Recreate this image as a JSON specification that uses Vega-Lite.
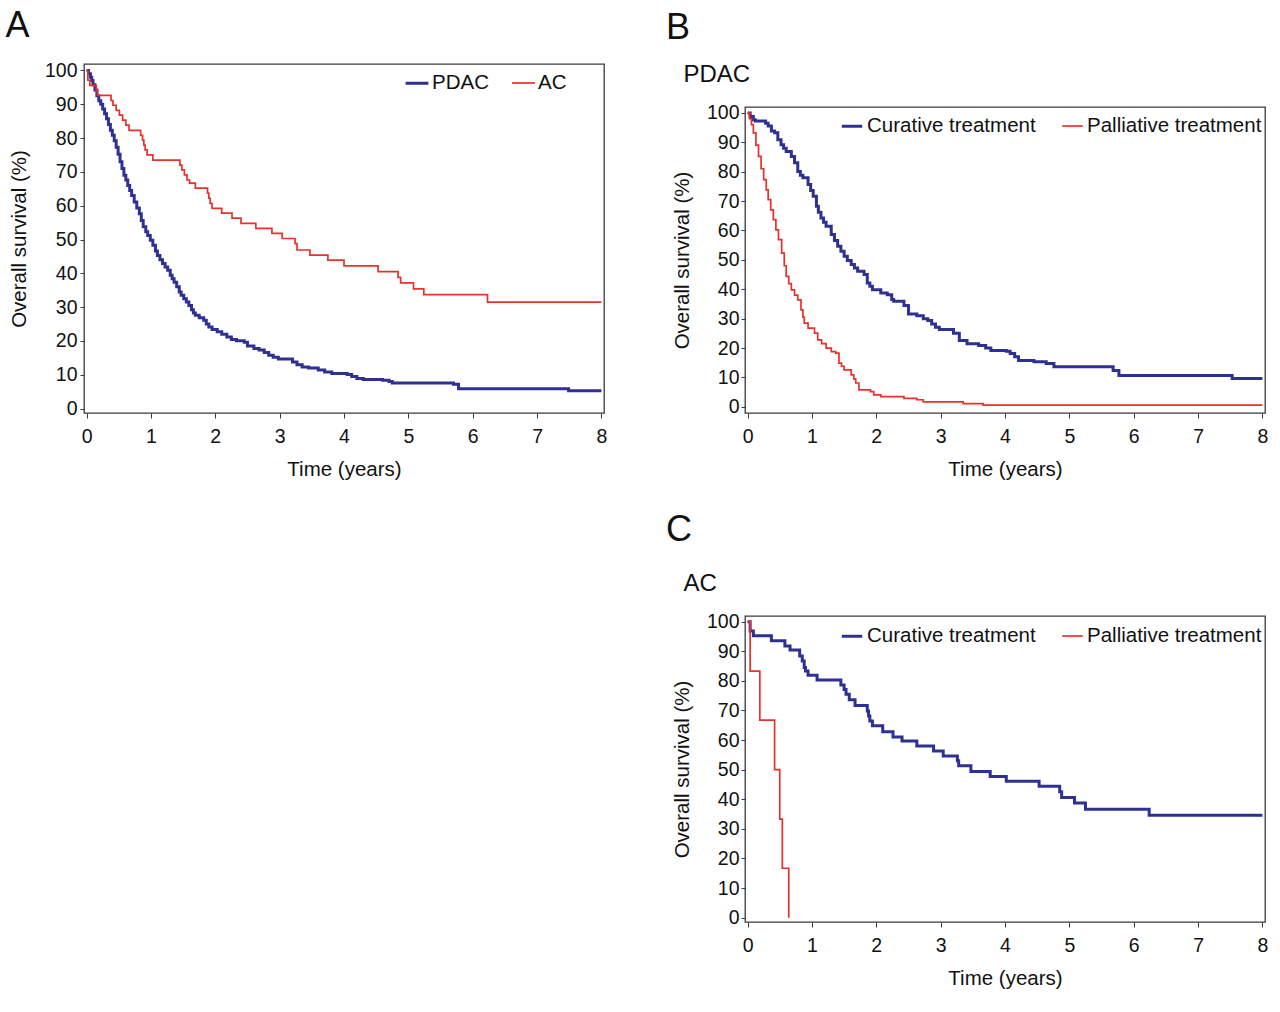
{
  "$schema": "https://vega.github.io/schema/vega-lite/v6.json",
  "background": "white",
  "padding": {"left": 4, "top": 7, "right": 5, "bottom": 5},
  "config": {
    "font": "Liberation Sans",
    "view": {"stroke": "#3a3a3a", "strokeWidth": 1.3},
    "axis": {
      "grid": false,
      "domain": false,
      "labelFont": "Liberation Sans",
      "titleFont": "Liberation Sans",
      "labelFontSize": 19.5,
      "titleFontSize": 20.5,
      "labelColor": "#111",
      "titleColor": "#111",
      "titleFontWeight": "normal",
      "tickColor": "#3a3a3a",
      "labelOverlap": false,
      "labelFlush": false
    },
    "legend": {
      "labelFont": "Liberation Sans",
      "labelFontSize": 20.5,
      "labelColor": "#111",
      "labelLimit": 400,
      "symbolType": "stroke",
      "padding": 0,
      "labelOffset": 2
    },
    "title": {
      "font": "Liberation Sans",
      "fontSize": 36,
      "fontWeight": "normal",
      "color": "#111",
      "anchor": "start",
      "frame": "bounds",
      "subtitleFont": "Liberation Sans",
      "subtitleFontSize": 24,
      "subtitleColor": "#111"
    }
  },
  "datasets": {
    "A": [
      {"g": "PDAC", "t": 0, "s": 100}, {"g": "PDAC", "t": 0.03, "s": 99}, {"g": "PDAC", "t": 0.06, "s": 98}, {"g": "PDAC", "t": 0.08, "s": 97},
      {"g": "PDAC", "t": 0.1, "s": 95.8}, {"g": "PDAC", "t": 0.13, "s": 94.2}, {"g": "PDAC", "t": 0.16, "s": 92.5}, {"g": "PDAC", "t": 0.19, "s": 91},
      {"g": "PDAC", "t": 0.22, "s": 90}, {"g": "PDAC", "t": 0.25, "s": 88.6}, {"g": "PDAC", "t": 0.28, "s": 87.2}, {"g": "PDAC", "t": 0.31, "s": 85.7},
      {"g": "PDAC", "t": 0.34, "s": 84}, {"g": "PDAC", "t": 0.37, "s": 82.3}, {"g": "PDAC", "t": 0.4, "s": 80.8}, {"g": "PDAC", "t": 0.43, "s": 79.2},
      {"g": "PDAC", "t": 0.46, "s": 77.3}, {"g": "PDAC", "t": 0.49, "s": 75.2}, {"g": "PDAC", "t": 0.52, "s": 73}, {"g": "PDAC", "t": 0.55, "s": 71},
      {"g": "PDAC", "t": 0.58, "s": 69}, {"g": "PDAC", "t": 0.61, "s": 67.6}, {"g": "PDAC", "t": 0.64, "s": 66}, {"g": "PDAC", "t": 0.67, "s": 64.5},
      {"g": "PDAC", "t": 0.7, "s": 63}, {"g": "PDAC", "t": 0.74, "s": 61.1}, {"g": "PDAC", "t": 0.78, "s": 59.3}, {"g": "PDAC", "t": 0.82, "s": 57.6},
      {"g": "PDAC", "t": 0.85, "s": 55.6}, {"g": "PDAC", "t": 0.88, "s": 53.8}, {"g": "PDAC", "t": 0.92, "s": 52.3}, {"g": "PDAC", "t": 0.95, "s": 51.2},
      {"g": "PDAC", "t": 0.99, "s": 49.8}, {"g": "PDAC", "t": 1.03, "s": 48.3}, {"g": "PDAC", "t": 1.07, "s": 46.6}, {"g": "PDAC", "t": 1.1, "s": 45.3},
      {"g": "PDAC", "t": 1.14, "s": 44}, {"g": "PDAC", "t": 1.18, "s": 42.9}, {"g": "PDAC", "t": 1.22, "s": 41.9}, {"g": "PDAC", "t": 1.26, "s": 40.9},
      {"g": "PDAC", "t": 1.3, "s": 39.4}, {"g": "PDAC", "t": 1.33, "s": 38.4}, {"g": "PDAC", "t": 1.36, "s": 37.4}, {"g": "PDAC", "t": 1.4, "s": 36},
      {"g": "PDAC", "t": 1.44, "s": 34.5}, {"g": "PDAC", "t": 1.47, "s": 33.5}, {"g": "PDAC", "t": 1.51, "s": 32.5}, {"g": "PDAC", "t": 1.55, "s": 31.5},
      {"g": "PDAC", "t": 1.59, "s": 30.5}, {"g": "PDAC", "t": 1.63, "s": 29.2}, {"g": "PDAC", "t": 1.66, "s": 28.3}, {"g": "PDAC", "t": 1.69, "s": 27.6},
      {"g": "PDAC", "t": 1.75, "s": 26.9}, {"g": "PDAC", "t": 1.82, "s": 26.1}, {"g": "PDAC", "t": 1.86, "s": 25}, {"g": "PDAC", "t": 1.9, "s": 24.1},
      {"g": "PDAC", "t": 1.95, "s": 23.4}, {"g": "PDAC", "t": 2.03, "s": 22.7}, {"g": "PDAC", "t": 2.1, "s": 22}, {"g": "PDAC", "t": 2.18, "s": 21.2},
      {"g": "PDAC", "t": 2.25, "s": 20.4}, {"g": "PDAC", "t": 2.33, "s": 20.1}, {"g": "PDAC", "t": 2.45, "s": 19.6}, {"g": "PDAC", "t": 2.5, "s": 18.5},
      {"g": "PDAC", "t": 2.6, "s": 17.8}, {"g": "PDAC", "t": 2.68, "s": 17.3}, {"g": "PDAC", "t": 2.76, "s": 16.6}, {"g": "PDAC", "t": 2.83, "s": 15.8},
      {"g": "PDAC", "t": 2.9, "s": 15.2}, {"g": "PDAC", "t": 2.98, "s": 14.7}, {"g": "PDAC", "t": 3.2, "s": 13.8}, {"g": "PDAC", "t": 3.27, "s": 13},
      {"g": "PDAC", "t": 3.35, "s": 12.3}, {"g": "PDAC", "t": 3.45, "s": 12}, {"g": "PDAC", "t": 3.6, "s": 11.4}, {"g": "PDAC", "t": 3.7, "s": 10.8},
      {"g": "PDAC", "t": 3.81, "s": 10.4}, {"g": "PDAC", "t": 4.05, "s": 10.1}, {"g": "PDAC", "t": 4.12, "s": 9.5}, {"g": "PDAC", "t": 4.2, "s": 8.9},
      {"g": "PDAC", "t": 4.3, "s": 8.6}, {"g": "PDAC", "t": 4.6, "s": 8.4}, {"g": "PDAC", "t": 4.7, "s": 8}, {"g": "PDAC", "t": 4.75, "s": 7.6},
      {"g": "PDAC", "t": 5.7, "s": 7.2}, {"g": "PDAC", "t": 5.78, "s": 5.9}, {"g": "PDAC", "t": 7.49, "s": 5.3}, {"g": "PDAC", "t": 8, "s": 5.3},
      {"g": "AC", "t": 0, "s": 100}, {"g": "AC", "t": 0.02, "s": 97.1}, {"g": "AC", "t": 0.05, "s": 95.6}, {"g": "AC", "t": 0.15, "s": 94.1},
      {"g": "AC", "t": 0.17, "s": 92.6}, {"g": "AC", "t": 0.38, "s": 91.1}, {"g": "AC", "t": 0.41, "s": 89.7}, {"g": "AC", "t": 0.46, "s": 88.2},
      {"g": "AC", "t": 0.51, "s": 86.8}, {"g": "AC", "t": 0.56, "s": 85.3}, {"g": "AC", "t": 0.61, "s": 83.8}, {"g": "AC", "t": 0.66, "s": 82.3},
      {"g": "AC", "t": 0.84, "s": 80.8}, {"g": "AC", "t": 0.87, "s": 79.4}, {"g": "AC", "t": 0.89, "s": 77.9}, {"g": "AC", "t": 0.91, "s": 76.5},
      {"g": "AC", "t": 0.94, "s": 75}, {"g": "AC", "t": 1.03, "s": 73.5}, {"g": "AC", "t": 1.45, "s": 72}, {"g": "AC", "t": 1.48, "s": 70.6},
      {"g": "AC", "t": 1.52, "s": 69.1}, {"g": "AC", "t": 1.56, "s": 67.6}, {"g": "AC", "t": 1.6, "s": 66.7}, {"g": "AC", "t": 1.69, "s": 65.2},
      {"g": "AC", "t": 1.88, "s": 63.7}, {"g": "AC", "t": 1.9, "s": 62.2}, {"g": "AC", "t": 1.92, "s": 60.7}, {"g": "AC", "t": 1.95, "s": 59.2},
      {"g": "AC", "t": 2.1, "s": 57.8}, {"g": "AC", "t": 2.26, "s": 56.3}, {"g": "AC", "t": 2.4, "s": 54.8}, {"g": "AC", "t": 2.63, "s": 53.3},
      {"g": "AC", "t": 2.88, "s": 51.8}, {"g": "AC", "t": 3.04, "s": 50.3}, {"g": "AC", "t": 3.24, "s": 48.8}, {"g": "AC", "t": 3.27, "s": 46.9},
      {"g": "AC", "t": 3.47, "s": 45.4}, {"g": "AC", "t": 3.75, "s": 43.9}, {"g": "AC", "t": 4, "s": 42.2}, {"g": "AC", "t": 4.53, "s": 40.5},
      {"g": "AC", "t": 4.84, "s": 38.8}, {"g": "AC", "t": 4.88, "s": 37.2}, {"g": "AC", "t": 5.08, "s": 35.4}, {"g": "AC", "t": 5.24, "s": 33.7},
      {"g": "AC", "t": 6.23, "s": 31.5}, {"g": "AC", "t": 8, "s": 31.5}
    ],
    "B": [
      {"g": "Curative treatment", "t": 0, "s": 100}, {"g": "Curative treatment", "t": 0.04, "s": 98.8}, {"g": "Curative treatment", "t": 0.09, "s": 97.7},
      {"g": "Curative treatment", "t": 0.12, "s": 97.2}, {"g": "Curative treatment", "t": 0.28, "s": 96.5}, {"g": "Curative treatment", "t": 0.32, "s": 95.5},
      {"g": "Curative treatment", "t": 0.37, "s": 93.8}, {"g": "Curative treatment", "t": 0.42, "s": 93.2}, {"g": "Curative treatment", "t": 0.47, "s": 90.9},
      {"g": "Curative treatment", "t": 0.52, "s": 89.2}, {"g": "Curative treatment", "t": 0.56, "s": 88}, {"g": "Curative treatment", "t": 0.6, "s": 86.9},
      {"g": "Curative treatment", "t": 0.68, "s": 85.2}, {"g": "Curative treatment", "t": 0.73, "s": 83}, {"g": "Curative treatment", "t": 0.78, "s": 80.1},
      {"g": "Curative treatment", "t": 0.82, "s": 78.8}, {"g": "Curative treatment", "t": 0.86, "s": 77.9}, {"g": "Curative treatment", "t": 0.94, "s": 75.6},
      {"g": "Curative treatment", "t": 0.98, "s": 73.6}, {"g": "Curative treatment", "t": 1.02, "s": 71.6}, {"g": "Curative treatment", "t": 1.07, "s": 68.2},
      {"g": "Curative treatment", "t": 1.1, "s": 66.2}, {"g": "Curative treatment", "t": 1.14, "s": 64.2}, {"g": "Curative treatment", "t": 1.18, "s": 62.8},
      {"g": "Curative treatment", "t": 1.22, "s": 61.4}, {"g": "Curative treatment", "t": 1.3, "s": 58.6}, {"g": "Curative treatment", "t": 1.35, "s": 56.6},
      {"g": "Curative treatment", "t": 1.4, "s": 54.6}, {"g": "Curative treatment", "t": 1.45, "s": 52.9}, {"g": "Curative treatment", "t": 1.5, "s": 51.2},
      {"g": "Curative treatment", "t": 1.55, "s": 49.8}, {"g": "Curative treatment", "t": 1.61, "s": 48.4}, {"g": "Curative treatment", "t": 1.66, "s": 47.2},
      {"g": "Curative treatment", "t": 1.71, "s": 46.1}, {"g": "Curative treatment", "t": 1.81, "s": 45}, {"g": "Curative treatment", "t": 1.86, "s": 42.1},
      {"g": "Curative treatment", "t": 1.9, "s": 41}, {"g": "Curative treatment", "t": 1.94, "s": 39.8}, {"g": "Curative treatment", "t": 2.07, "s": 38.7},
      {"g": "Curative treatment", "t": 2.17, "s": 38.1}, {"g": "Curative treatment", "t": 2.24, "s": 36.5}, {"g": "Curative treatment", "t": 2.27, "s": 35.9},
      {"g": "Curative treatment", "t": 2.43, "s": 34.5}, {"g": "Curative treatment", "t": 2.5, "s": 31.6}, {"g": "Curative treatment", "t": 2.63, "s": 31},
      {"g": "Curative treatment", "t": 2.73, "s": 30}, {"g": "Curative treatment", "t": 2.8, "s": 29.4}, {"g": "Curative treatment", "t": 2.86, "s": 28.2},
      {"g": "Curative treatment", "t": 2.92, "s": 27.1}, {"g": "Curative treatment", "t": 2.98, "s": 26.3}, {"g": "Curative treatment", "t": 3.2, "s": 25},
      {"g": "Curative treatment", "t": 3.29, "s": 22.6}, {"g": "Curative treatment", "t": 3.41, "s": 21.5}, {"g": "Curative treatment", "t": 3.59, "s": 20.9},
      {"g": "Curative treatment", "t": 3.7, "s": 20}, {"g": "Curative treatment", "t": 3.78, "s": 19.2}, {"g": "Curative treatment", "t": 4.02, "s": 18.9},
      {"g": "Curative treatment", "t": 4.08, "s": 18.1}, {"g": "Curative treatment", "t": 4.15, "s": 17}, {"g": "Curative treatment", "t": 4.21, "s": 15.8},
      {"g": "Curative treatment", "t": 4.45, "s": 15.3}, {"g": "Curative treatment", "t": 4.64, "s": 14.7}, {"g": "Curative treatment", "t": 4.76, "s": 13.6},
      {"g": "Curative treatment", "t": 5.68, "s": 12.4}, {"g": "Curative treatment", "t": 5.77, "s": 10.7}, {"g": "Curative treatment", "t": 7.53, "s": 9.6},
      {"g": "Curative treatment", "t": 8, "s": 9.6},
      {"g": "Palliative treatment", "t": 0, "s": 100}, {"g": "Palliative treatment", "t": 0.03, "s": 98}, {"g": "Palliative treatment", "t": 0.06, "s": 96},
      {"g": "Palliative treatment", "t": 0.09, "s": 93.2}, {"g": "Palliative treatment", "t": 0.13, "s": 89}, {"g": "Palliative treatment", "t": 0.17, "s": 85.2},
      {"g": "Palliative treatment", "t": 0.21, "s": 81}, {"g": "Palliative treatment", "t": 0.25, "s": 77.3}, {"g": "Palliative treatment", "t": 0.29, "s": 73.8},
      {"g": "Palliative treatment", "t": 0.32, "s": 70.5}, {"g": "Palliative treatment", "t": 0.36, "s": 67}, {"g": "Palliative treatment", "t": 0.4, "s": 63.7},
      {"g": "Palliative treatment", "t": 0.44, "s": 60.2}, {"g": "Palliative treatment", "t": 0.48, "s": 56.9}, {"g": "Palliative treatment", "t": 0.53, "s": 52.3},
      {"g": "Palliative treatment", "t": 0.57, "s": 48}, {"g": "Palliative treatment", "t": 0.6, "s": 44.4}, {"g": "Palliative treatment", "t": 0.64, "s": 41.9},
      {"g": "Palliative treatment", "t": 0.68, "s": 39.8}, {"g": "Palliative treatment", "t": 0.73, "s": 38}, {"g": "Palliative treatment", "t": 0.78, "s": 36.4},
      {"g": "Palliative treatment", "t": 0.83, "s": 33}, {"g": "Palliative treatment", "t": 0.86, "s": 30.5}, {"g": "Palliative treatment", "t": 0.88, "s": 28.5},
      {"g": "Palliative treatment", "t": 0.94, "s": 26.8}, {"g": "Palliative treatment", "t": 1.04, "s": 25.1}, {"g": "Palliative treatment", "t": 1.09, "s": 22.8},
      {"g": "Palliative treatment", "t": 1.15, "s": 21.5}, {"g": "Palliative treatment", "t": 1.22, "s": 20}, {"g": "Palliative treatment", "t": 1.3, "s": 18.8},
      {"g": "Palliative treatment", "t": 1.37, "s": 18.3}, {"g": "Palliative treatment", "t": 1.42, "s": 14.9}, {"g": "Palliative treatment", "t": 1.46, "s": 13.8},
      {"g": "Palliative treatment", "t": 1.5, "s": 12.6}, {"g": "Palliative treatment", "t": 1.61, "s": 10.9}, {"g": "Palliative treatment", "t": 1.65, "s": 9.5},
      {"g": "Palliative treatment", "t": 1.68, "s": 8.1}, {"g": "Palliative treatment", "t": 1.73, "s": 5.8}, {"g": "Palliative treatment", "t": 1.91, "s": 5.2},
      {"g": "Palliative treatment", "t": 1.96, "s": 4.1}, {"g": "Palliative treatment", "t": 2.07, "s": 3.5}, {"g": "Palliative treatment", "t": 2.43, "s": 2.9},
      {"g": "Palliative treatment", "t": 2.63, "s": 2.4}, {"g": "Palliative treatment", "t": 2.73, "s": 1.7}, {"g": "Palliative treatment", "t": 3.35, "s": 1.1},
      {"g": "Palliative treatment", "t": 3.66, "s": 0.6}, {"g": "Palliative treatment", "t": 8, "s": 0.6}
    ],
    "C": [
      {"g": "Curative treatment", "t": 0, "s": 100}, {"g": "Curative treatment", "t": 0.04, "s": 96.8}, {"g": "Curative treatment", "t": 0.09, "s": 95.2},
      {"g": "Curative treatment", "t": 0.37, "s": 93.5}, {"g": "Curative treatment", "t": 0.58, "s": 91.8}, {"g": "Curative treatment", "t": 0.66, "s": 90.4},
      {"g": "Curative treatment", "t": 0.81, "s": 88.4}, {"g": "Curative treatment", "t": 0.85, "s": 86.7}, {"g": "Curative treatment", "t": 0.88, "s": 84.5},
      {"g": "Curative treatment", "t": 0.9, "s": 83.3}, {"g": "Curative treatment", "t": 0.94, "s": 81.9}, {"g": "Curative treatment", "t": 1.08, "s": 80.3},
      {"g": "Curative treatment", "t": 1.45, "s": 78.6}, {"g": "Curative treatment", "t": 1.5, "s": 77.1}, {"g": "Curative treatment", "t": 1.53, "s": 75.5},
      {"g": "Curative treatment", "t": 1.58, "s": 73.6}, {"g": "Curative treatment", "t": 1.67, "s": 71.7}, {"g": "Curative treatment", "t": 1.86, "s": 69.8},
      {"g": "Curative treatment", "t": 1.88, "s": 68.1}, {"g": "Curative treatment", "t": 1.9, "s": 66.4}, {"g": "Curative treatment", "t": 1.94, "s": 64.8},
      {"g": "Curative treatment", "t": 2.1, "s": 62.8}, {"g": "Curative treatment", "t": 2.26, "s": 61}, {"g": "Curative treatment", "t": 2.4, "s": 59.7},
      {"g": "Curative treatment", "t": 2.63, "s": 58}, {"g": "Curative treatment", "t": 2.89, "s": 56.3}, {"g": "Curative treatment", "t": 3.04, "s": 54.6},
      {"g": "Curative treatment", "t": 3.26, "s": 53}, {"g": "Curative treatment", "t": 3.28, "s": 51.3}, {"g": "Curative treatment", "t": 3.47, "s": 49.4},
      {"g": "Curative treatment", "t": 3.77, "s": 47.7}, {"g": "Curative treatment", "t": 4.02, "s": 46.1}, {"g": "Curative treatment", "t": 4.53, "s": 44.4},
      {"g": "Curative treatment", "t": 4.85, "s": 42.5}, {"g": "Curative treatment", "t": 4.88, "s": 40.6}, {"g": "Curative treatment", "t": 5.08, "s": 38.7},
      {"g": "Curative treatment", "t": 5.25, "s": 36.6}, {"g": "Curative treatment", "t": 6.24, "s": 34.6}, {"g": "Curative treatment", "t": 8, "s": 34.6},
      {"g": "Palliative treatment", "t": 0, "s": 100}, {"g": "Palliative treatment", "t": 0.04, "s": 83.3}, {"g": "Palliative treatment", "t": 0.19, "s": 66.7},
      {"g": "Palliative treatment", "t": 0.42, "s": 50}, {"g": "Palliative treatment", "t": 0.5, "s": 33.3}, {"g": "Palliative treatment", "t": 0.54, "s": 16.7},
      {"g": "Palliative treatment", "t": 0.64, "s": 0}
    ]
  },
  "spacing": 57,
  "resolve": {"scale": {"color": "independent", "strokeWidth": "independent"}, "legend": {"color": "independent", "strokeWidth": "independent"}},
  "hconcat": [
    {
      "width": 520,
      "height": 349,
      "title": {"text": "A", "offset": 15, "dx": -4},
      "data": {"name": "A"},
      "mark": {"type": "line", "interpolate": "step-after"},
      "encoding": {
        "x": {"field": "t", "type": "quantitative", "scale": {"domain": [-0.04, 8.04], "nice": false, "zero": false},
          "axis": {"title": "Time (years)", "format": "d", "values": [0,0.25,0.5,0.75,1,1.25,1.5,1.75,2,2.25,2.5,2.75,3,3.25,3.5,3.75,4,4.25,4.5,4.75,5,5.25,5.5,5.75,6,6.25,6.5,6.75,7,7.25,7.5,7.75,8],
            "labelExpr": "datum.value % 1 === 0 ? datum.label : ''", "tickSize": {"condition": {"test": "datum.value % 1 === 0", "value": 5}, "value": 3}, "labelPadding": 9, "titlePadding": 14}},
        "y": {"field": "s", "type": "quantitative", "scale": {"domain": [-1.3, 101.9], "nice": false, "zero": false},
          "axis": {"title": "Overall survival (%)", "format": "d", "values": [0,10,20,30,40,50,60,70,80,90,100], "tickSize": 4, "labelPadding": 3, "titlePadding": 15}},
        "color": {"field": "g", "type": "nominal", "scale": {"domain": ["PDAC", "AC"], "range": ["#2e3192", "#e8312a"]},
          "legend": {"title": null, "orient": "none", "direction": "horizontal", "legendX": 320, "legendY": 6, "columnPadding": 19, "symbolSize": 520}},
        "strokeWidth": {"field": "g", "type": "nominal", "scale": {"domain": ["PDAC", "AC"], "range": [3, 1.7]},
          "legend": {"title": null, "orient": "none", "direction": "horizontal", "legendX": 320, "legendY": 6, "columnPadding": 19, "symbolSize": 520}}
      }
    },
    {
      "spacing": 30,
      "resolve": {"scale": {"color": "independent", "strokeWidth": "independent"}, "legend": {"color": "independent", "strokeWidth": "independent"}},
      "vconcat": [
        {
          "spacing": -6,
          "resolve": {"scale": {"color": "independent", "strokeWidth": "independent"}, "legend": {"color": "independent", "strokeWidth": "independent"}},
          "vconcat": [
            {
              "width": 520,
              "height": 1,
              "view": {"stroke": null},
              "title": {"text": "B", "offset": 15, "dx": -79},
              "data": {"values": [{"t": 0}]},
              "mark": {"type": "point", "opacity": 0},
              "encoding": {}
            },
            {
              "width": 520,
              "height": 306,
              "title": {"text": "PDAC", "fontSize": 24, "offset": 16, "dx": 11},
              "data": {"name": "B"},
              "mark": {"type": "line", "interpolate": "step-after"},
              "encoding": {
                "x": {"field": "t", "type": "quantitative", "scale": {"domain": [-0.04, 8.04], "nice": false, "zero": false},
                  "axis": {"title": "Time (years)", "format": "d", "values": [0,0.25,0.5,0.75,1,1.25,1.5,1.75,2,2.25,2.5,2.75,3,3.25,3.5,3.75,4,4.25,4.5,4.75,5,5.25,5.5,5.75,6,6.25,6.5,6.75,7,7.25,7.5,7.75,8],
                    "labelExpr": "datum.value % 1 === 0 ? datum.label : ''", "tickSize": {"condition": {"test": "datum.value % 1 === 0", "value": 5}, "value": 3}, "labelPadding": 9, "titlePadding": 14}},
                "y": {"field": "s", "type": "quantitative", "scale": {"domain": [-2.1, 102], "nice": false, "zero": false},
                  "axis": {"title": "Overall survival (%)", "format": "d", "values": [0,10,20,30,40,50,60,70,80,90,100], "tickSize": 4, "labelPadding": 2, "titlePadding": 14}},
                "color": {"field": "g", "type": "nominal", "scale": {"domain": ["Curative treatment", "Palliative treatment"], "range": ["#2e3192", "#e8312a"]},
                  "legend": {"title": null, "orient": "none", "direction": "horizontal", "legendX": 95, "legendY": 7, "columnPadding": 22, "symbolSize": 420, "labelOffset": 3}},
                "strokeWidth": {"field": "g", "type": "nominal", "scale": {"domain": ["Curative treatment", "Palliative treatment"], "range": [3, 1.7]},
                  "legend": {"title": null, "orient": "none", "direction": "horizontal", "legendX": 95, "legendY": 7, "columnPadding": 22, "symbolSize": 420, "labelOffset": 3}}
              }
            }
          ]
        },
        {
          "spacing": 0,
          "resolve": {"scale": {"color": "independent", "strokeWidth": "independent"}, "legend": {"color": "independent", "strokeWidth": "independent"}},
          "vconcat": [
            {
              "width": 520,
              "height": 5,
              "view": {"stroke": null},
              "title": {"text": "C", "offset": 15, "dx": -79},
              "data": {"values": [{"t": 0}]},
              "mark": {"type": "point", "opacity": 0},
              "encoding": {}
            },
            {
              "width": 520,
              "height": 306,
              "title": {"text": "AC", "fontSize": 24, "offset": 16, "dx": 11},
              "data": {"name": "C"},
              "mark": {"type": "line", "interpolate": "step-after"},
              "encoding": {
                "x": {"field": "t", "type": "quantitative", "scale": {"domain": [-0.04, 8.04], "nice": false, "zero": false},
                  "axis": {"title": "Time (years)", "format": "d", "values": [0,0.25,0.5,0.75,1,1.25,1.5,1.75,2,2.25,2.5,2.75,3,3.25,3.5,3.75,4,4.25,4.5,4.75,5,5.25,5.5,5.75,6,6.25,6.5,6.75,7,7.25,7.5,7.75,8],
                    "labelExpr": "datum.value % 1 === 0 ? datum.label : ''", "tickSize": {"condition": {"test": "datum.value % 1 === 0", "value": 5}, "value": 3}, "labelPadding": 9, "titlePadding": 14}},
                "y": {"field": "s", "type": "quantitative", "scale": {"domain": [-1.45, 101.9], "nice": false, "zero": false},
                  "axis": {"title": "Overall survival (%)", "format": "d", "values": [0,10,20,30,40,50,60,70,80,90,100], "tickSize": 4, "labelPadding": 2, "titlePadding": 14}},
                "color": {"field": "g", "type": "nominal", "scale": {"domain": ["Curative treatment", "Palliative treatment"], "range": ["#2e3192", "#e8312a"]},
                  "legend": {"title": null, "orient": "none", "direction": "horizontal", "legendX": 95, "legendY": 8, "columnPadding": 22, "symbolSize": 420, "labelOffset": 3}},
                "strokeWidth": {"field": "g", "type": "nominal", "scale": {"domain": ["Curative treatment", "Palliative treatment"], "range": [3, 1.7]},
                  "legend": {"title": null, "orient": "none", "direction": "horizontal", "legendX": 95, "legendY": 8, "columnPadding": 22, "symbolSize": 420, "labelOffset": 3}}
              }
            }
          ]
        }
      ]
    }
  ]
}
